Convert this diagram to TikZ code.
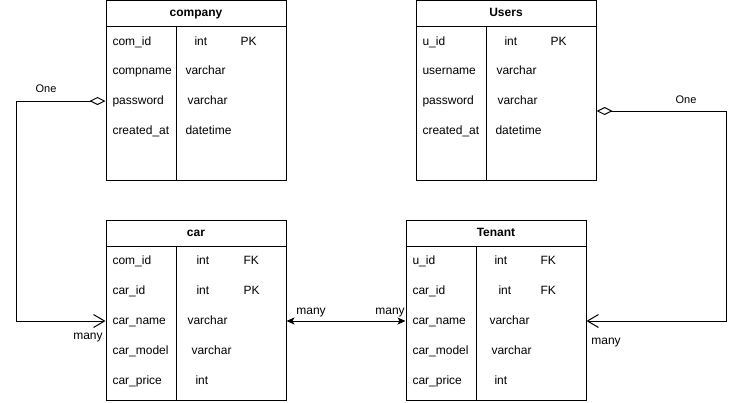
\documentclass[tikz,border=0pt]{standalone}
\usepackage{fontspec}
\setmainfont{Liberation Sans}
\usetikzlibrary{arrows.meta}
\begin{document}
\begin{tikzpicture}[x=1pt,y=-1pt,
  line width=1pt,
  every node/.style={font=\fontsize{12}{14}\selectfont},
  entity/.style={draw,rectangle,minimum width=180pt,minimum height=180pt,inner sep=0pt},
  title/.style={font=\fontsize{12}{14}\selectfont\bfseries,inner sep=0pt,text height=9pt,text depth=3pt},
  field/.style={anchor=west,inner sep=0pt,text height=9pt,text depth=3pt},
  rel/.style={inner sep=0pt,text height=9pt,text depth=3pt},
  onelbl/.style={inner sep=0pt,font=\fontsize{11}{13}\selectfont},
  onemany/.style={{Diamond[open,length=16pt,width=8pt,line width=1pt]}-{Straight Barb[length=11pt,width=13pt,line width=1pt]}},
  manymany/.style={{Stealth[length=8pt,width=7pt,inset=2pt]}-{Stealth[length=8pt,width=7pt,inset=2pt]}}
]
\useasboundingbox (0,0) rectangle (744,402);

% ---------- company ----------
\node[entity] (company) at (196,90.5) {};
\draw (106,26) -- (286,26);
\draw (176,26) -- (176,180.5);
\node[title] at (196,13) {company};
\node[field] (c1) at (112,42) {com\_id};
\node[field] (c2) at (112,71) {compname};
\node[field] (c3) at (112,101) {password};
\node[field] (c4) at (112,131) {created\_at};
\node[field] at (194,42) {int};
\node[field] at (240,42) {PK};
\node[field] at (185,71) {varchar};
\node[field] at (187,101) {varchar};
\node[field] at (185,131) {datetime};

% ---------- Users ----------
\node[entity] (users) at (506,90.5) {};
\draw (416,26) -- (596,26);
\draw (486,26) -- (486,180.5);
\node[title] at (506,13) {Users};
\node[field] (u1) at (422,42) {u\_id};
\node[field] (u2) at (422,71) {username};
\node[field] (u3) at (422,101) {password};
\node[field] (u4) at (422,131) {created\_at};
\node[field] at (504,42) {int};
\node[field] at (550,42) {PK};
\node[field] at (496,71) {varchar};
\node[field] at (497,101) {varchar};
\node[field] at (495,131) {datetime};

% ---------- car ----------
\node[entity] (car) at (196,310) {};
\draw (106,246) -- (286,246);
\draw (176,246) -- (176,400);
\node[title] at (196,233) {car};
\node[field] (k1) at (112,261) {com\_id};
\node[field] (k2) at (112,291) {car\_id};
\node[field] (k3) at (112,321) {car\_name};
\node[field] (k4) at (112,351) {car\_model};
\node[field] (k5) at (112,381) {car\_price};
\node[field] at (196,261) {int};
\node[field] at (243,261) {FK};
\node[field] at (196,291) {int};
\node[field] at (243,291) {PK};
\node[field] at (187,321) {varchar};
\node[field] at (191,351) {varchar};
\node[field] at (195,381) {int};

% ---------- Tenant ----------
\node[entity] (tenant) at (496,310) {};
\draw (406,246) -- (586,246);
\draw (476,246) -- (476,400);
\node[title] at (496,233) {Tenant};
\node[field] (t1) at (412,261) {u\_id};
\node[field] (t2) at (412,291) {car\_id};
\node[field] (t3) at (412,321) {car\_name};
\node[field] (t4) at (412,351) {car\_model};
\node[field] (t5) at (412,381) {car\_price};
\node[field] at (494,261) {int};
\node[field] at (540,261) {FK};
\node[field] at (498,291) {int};
\node[field] at (540,291) {FK};
\node[field] at (489,321) {varchar};
\node[field] at (491,351) {varchar};
\node[field] at (494,381) {int};

% ---------- relationships ----------
\coordinate (lbend) at (16,101);
\coordinate (rbend) at (726,111);
\draw[onemany] (company.west |- c3) -- (lbend) |- (car.west |- k3);
\draw[onemany] ([yshift=-20.5pt]users.east) -- (rbend) |- (tenant.east |- t3);
\draw[manymany] (car.east |- k3) -- (tenant.west |- t3);

\node[onelbl] at (46,89) {One};
\node[onelbl] at (686,100) {One};
\node[rel] at (88,336) {many};
\node[rel] at (606,341) {many};
\node[rel] at (311,311) {many};
\node[rel] at (390,311) {many};
\end{tikzpicture}
\end{document}
